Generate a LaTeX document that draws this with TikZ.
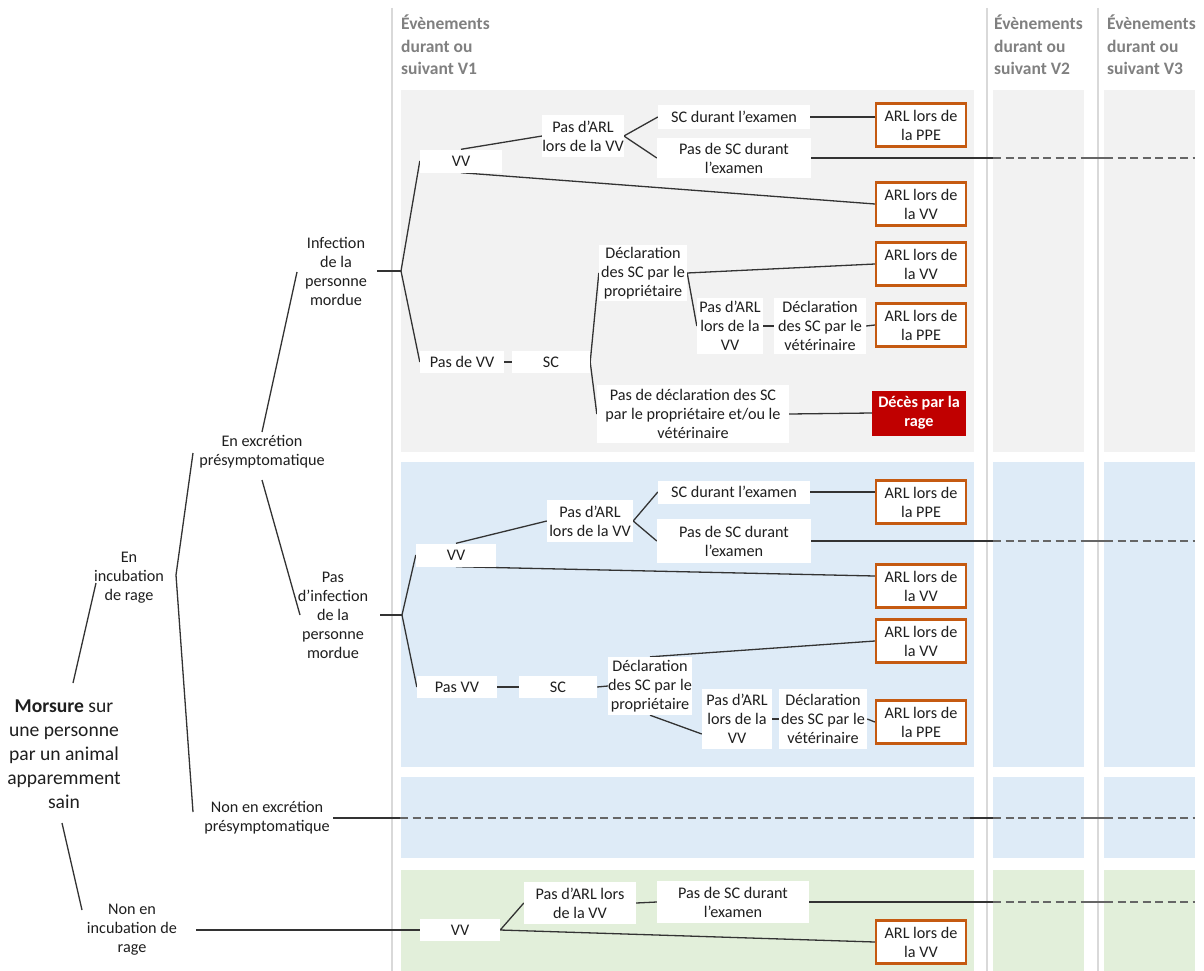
\documentclass[tikz,border=0pt]{standalone}
\usepackage{fontspec}
\setmainfont{Carlito}
\usetikzlibrary{calc}
\pgfdeclarelayer{panels}
\pgfdeclarelayer{links}
\pgfsetlayers{panels,links,main}
\definecolor{pgray}{HTML}{F2F2F2}
\definecolor{pblue}{HTML}{DEEBF7}
\definecolor{pgreen}{HTML}{E2EFDA}
\definecolor{sepc}{HTML}{D9D9D9}
\definecolor{orng}{HTML}{C55A11}
\definecolor{redc}{HTML}{C00000}
\definecolor{lnk}{HTML}{333333}
\definecolor{dsh}{HTML}{666666}
\definecolor{txt}{HTML}{1F1F1F}
\definecolor{hdrc}{HTML}{808080}
\newcommand\trailrow[1]{%
  \draw[link] (970,#1) -- (993,#1);
  \draw[dashline] (993,#1) -- (1084,#1);
  \draw[link,draw=dsh] (1084,#1) -- (1105,#1);
  \draw[dashline] (1105,#1) -- (1195,#1);}
\tikzset{
  body/.style={font=\fontsize{16.2}{19}\selectfont, text=txt, align=center, inner sep=0pt},
  lab/.style={body},
  wbox/.style={body, fill=white},
  sz/.style n args={2}{minimum width=#1pt, minimum height=#2pt},
  obox/.style={wbox, draw=orng, line width=2.2pt, minimum width=90pt, minimum height=43pt},
  rbox/.style={body, fill=redc, text=white, font=\fontsize{16.2}{19}\selectfont\bfseries, minimum width=94pt, minimum height=45pt},
  link/.style={draw=lnk, line width=1.3pt},
  dashline/.style={draw=dsh, line width=1.5pt, dash pattern=on 8pt off 4.5pt},
  hdr/.style={font=\fontsize{17.5}{22.5}\selectfont\bfseries, text=hdrc, align=left, inner sep=0pt, anchor=north west},
  sepline/.style={draw=sepc, line width=2pt},
}
\begin{document}
\begin{tikzpicture}[x=1pt,y=-1pt]
\useasboundingbox (0,0) rectangle (1204,971);

% ---------- panels ----------
\begin{pgfonlayer}{panels}
\fill[white] (0,0) rectangle (1204,971);
\foreach \xa/\xb in {401/974, 993/1084, 1104/1195} {
  \fill[pgray]  (\xa,90)  rectangle (\xb,452);
  \fill[pblue]  (\xa,462) rectangle (\xb,767);
  \fill[pblue]  (\xa,777) rectangle (\xb,858);
  \fill[pgreen] (\xa,870) rectangle (\xb,971);
}
\draw[sepline] (392,8) -- (392,971);
\draw[sepline] (987,8) -- (987,971);
\draw[sepline] (1098,8) -- (1098,971);
\end{pgfonlayer}

% ---------- headers ----------
\node[hdr] (h1) at (401,15) {Évènements\\durant ou\\suivant V1};
\node[hdr] (h2) at (994,15) {Évènements\\durant ou\\suivant V2};
\node[hdr] (h3) at (1107,15) {Évènements\\durant ou\\suivant V3};

% ---------- left tree labels ----------
\node[lab] (l_inf) at (336,271) {Infection\\de la\\personne\\mordue};
\node[lab] (l_exc) at (262,452) {En excrétion\\présymptomatique};
\node[lab] (l_noinf) at (333,615) {Pas\\d’infection\\de la\\personne\\mordue};
\node[lab] (l_inc) at (129,578) {En\\incubation\\de rage};
\node[lab, font=\fontsize{19.6}{24}\selectfont] (l_mors) at (64,754)
  {\textbf{Morsure} sur\\une personne\\par un animal\\apparemment\\sain};
\node[lab] (l_noexc) at (267,818) {Non en excrétion\\présymptomatique};
\node[lab] (l_noinc) at (132,930) {Non en\\incubation de\\rage};

% ---------- gray section ----------
\node[wbox, sz={82}{23}] (g_vv) at (461,161) {VV};
\node[wbox, sz={80}{42}] (g_pas) at (583,136) {Pas d’ARL\\lors de la VV};
\node[wbox, sz={152}{24}] (g_scd) at (734,117) {SC durant l’examen};
\node[wbox, sz={154}{40}] (g_pasc) at (734,158) {Pas de SC durant\\l’examen};
\node[obox] (g_ppe1) at (921,125) {ARL lors de\\la PPE};
\node[obox] (g_vv1) at (921,204) {ARL lors de\\la VV};
\node[wbox, sz={88}{56}] (g_decl) at (643,273) {Déclaration\\des SC par le\\propriétaire};
\node[obox] (g_vv2) at (921,264) {ARL lors de\\la VV};
\node[wbox, sz={66}{56}] (g_pas2) at (730,326) {Pas d’ARL\\lors de la\\VV};
\node[wbox, sz={92}{56}] (g_declv) at (820,326) {Déclaration\\des SC par le\\vétérinaire};
\node[obox] (g_ppe2) at (921,325) {ARL lors de\\la PPE};
\node[wbox, sz={84}{22}] (g_pasvv) at (462,362) {Pas de VV};
\node[wbox, sz={78}{22}] (g_sc) at (551,362) {SC};
\node[wbox, sz={192}{58}] (g_nodecl) at (693,414) {Pas de déclaration des SC\\par le propriétaire et/ou le\\vétérinaire};
\node[rbox] (g_deces) at (919,413) {Décès par la\\rage};

% ---------- blue section ----------
\node[wbox, sz={80}{23}] (b_vv) at (456,555) {VV};
\node[wbox, sz={86}{42}] (b_pas) at (590,521) {Pas d’ARL\\lors de la VV};
\node[wbox, sz={152}{23}] (b_scd) at (734,492) {SC durant l’examen};
\node[wbox, sz={154}{44}] (b_pasc) at (734,541) {Pas de SC durant\\l’examen};
\node[obox] (b_ppe1) at (921,502) {ARL lors de\\la PPE};
\node[obox] (b_vv1) at (921,586) {ARL lors de\\la VV};
\node[obox] (b_vv2) at (921,641) {ARL lors de\\la VV};
\node[wbox, sz={80}{22}] (b_pasvv) at (457,687) {Pas VV};
\node[wbox, sz={78}{22}] (b_sc) at (558,687) {SC};
\node[wbox, sz={84}{58}] (b_decl) at (650,686) {Déclaration\\des SC par le\\propriétaire};
\node[wbox, sz={70}{60}] (b_pas2) at (737,719) {Pas d’ARL\\lors de la\\VV};
\node[wbox, sz={88}{60}] (b_declv) at (823,719) {Déclaration\\des SC par le\\vétérinaire};
\node[obox] (b_ppe2) at (921,722) {ARL lors de\\la PPE};

% ---------- green section ----------
\node[wbox, sz={80}{22}] (e_vv) at (460,930) {VV};
\node[wbox, sz={112}{42}] (e_pas) at (580,903) {Pas d’ARL lors\\de la VV};
\node[wbox, sz={152}{42}] (e_pasc) at (733,902) {Pas de SC durant\\l’examen};
\node[obox] (e_vv1) at (921,942) {ARL lors de\\la VV};

% ---------- named points ----------
\coordinate (k_mors_up) at (73,683);
\coordinate (k_inc_in) at (96,583);
\coordinate (k_mors_dn) at (62,823);
\coordinate (k_noinc_in) at (82,910);
\coordinate (k_inc_fork) at (176,575);
\coordinate (k_exc_in) at (193,453);
\coordinate (k_noexc_in) at (193,812);
\coordinate (k_exc_up) at (262,432);
\coordinate (k_inf_in) at (297,272);
\coordinate (k_exc_dn) at (262,480);
\coordinate (k_noinf_in) at (300,615);
\coordinate (k_inf_out) at (377,271);
\coordinate (k_gfork) at (401,271);
\coordinate (k_noinf_out) at (380,615);
\coordinate (k_bfork) at (402,615);
\coordinate (k_noexc_out) at (333,818);
\coordinate (k_noexc_dash) at (400,818);
\coordinate (k_noexc_end) at (970,818);
\coordinate (k_noinc_out) at (196,930);

% ---------- connectors ----------
\begin{pgfonlayer}{links}
% left tree
\draw[link] (k_mors_up) -- (k_inc_in);
\draw[link] (k_mors_dn) -- (k_noinc_in);
\draw[link] (k_exc_in) -- (k_inc_fork) -- (k_noexc_in);
\draw[link] (k_exc_up) -- (k_inf_in);
\draw[link] (k_exc_dn) -- (k_noinf_in);
\draw[link] (k_inf_out) -- (k_gfork);
\draw[link] (k_noinf_out) -- (k_bfork);
\draw[link] (k_noexc_out) -- (k_noexc_dash);
\draw[dashline] (k_noexc_dash) -- (k_noexc_end);
\trailrow{818}
\draw[link] (k_noinc_out) -- (e_vv.west);

% gray section
\draw[link] (g_vv.west) -- (k_gfork) -- (g_pasvv.west);
\draw[link] (g_vv.north) -- (g_pas.west);
\draw[link] (g_vv.south) -- (g_vv1.west);
\draw[link] (g_scd.west) -- (g_pas.east) -- (g_pasc.west);
\draw[link] (g_scd.east) -- (g_scd.east -| g_ppe1.west);
\draw[link] (g_pasc.east) -- (970,158);
\trailrow{158}
\draw[link] (g_pasvv.east) -- (g_sc.west);
\draw[link] (g_decl.west) -- (g_sc.east) -- (g_nodecl.west);
\draw[link] (g_pas2.west) -- (g_decl.east) -- (g_vv2.west);
\draw[link] (g_pas2.east) -- (g_declv.west);
\draw[link] (g_declv.east) -- (g_ppe2.west);
\draw[link] (g_nodecl.east) -- (g_deces.west);

% blue section
\draw[link] (b_vv.west) -- (k_bfork) -- (b_pasvv.west);
\draw[link] (b_vv.north) -- (b_pas.west);
\draw[link] (b_vv.south) -- ($(b_vv1.west)+(0,-10)$);
\draw[link] (b_scd.west) -- (b_pas.east) -- (b_pasc.west);
\draw[link] (b_scd.east) -- (b_scd.east -| b_ppe1.west);
\draw[link] (b_pasc.east) -- (970,541);
\trailrow{541}
\draw[link] (b_pasvv.east) -- (b_sc.west);
\draw[link] (b_sc.east) -- (b_decl.west);
\draw[link] (b_decl.north) -- (b_vv2.west);
\draw[link] (b_decl.south) -- ($(b_pas2.west)+(0,15)$);
\draw[link] (b_pas2.east) -- (b_declv.west);
\draw[link] (b_declv.east) -- (b_ppe2.west);

% green section
\draw[link] (e_pas.west) -- (e_vv.east) -- (e_vv1.west);
\draw[link] (e_pas.east) -- (e_pasc.west);
\draw[link] (e_pasc.east) -- (970,902);
\trailrow{902}
\end{pgfonlayer}
\end{tikzpicture}
\end{document}
